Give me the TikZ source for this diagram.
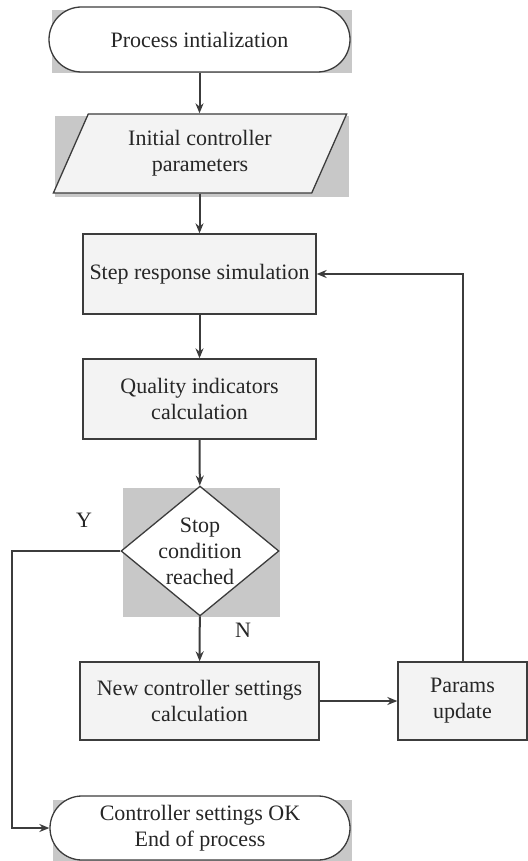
\documentclass[tikz,border=0pt]{standalone}
\usepackage{fontspec}
\setmainfont{Liberation Serif}
\usepackage{tikz}
\usetikzlibrary{arrows.meta, positioning, shapes.geometric, shapes.misc, calc}
\definecolor{linegray}{HTML}{3C3C3C}
\definecolor{shadegray}{HTML}{C8C8C8}
\definecolor{boxfill}{HTML}{F3F3F3}
\tikzset{
    every node/.style={font=\fontsize{22}{26}\selectfont, text=black!85},
    termnode/.style={rounded rectangle, draw=linegray, line width=1.3pt, fill=white, align=center, inner sep=0pt},
    ionode/.style={trapezium, trapezium left angle=64, trapezium right angle=116, trapezium stretches=true, draw=linegray, line width=1.3pt, fill=boxfill, align=center, inner sep=0pt},
    procnode/.style={rectangle, draw=linegray, line width=1.3pt, fill=boxfill, align=center, inner sep=0pt},
    decnode/.style={diamond, draw=linegray, line width=1.3pt, fill=white, align=center, inner sep=-5pt},
    shadowrect/.style={fill=shadegray},
    flowline/.style={draw=linegray, line width=2pt}
}

\begin{document}
\begin{tikzpicture}[x=1pt, y=-1pt, >={Stealth[length=10pt, width=8pt]}]
  \useasboundingbox (0,0) rectangle (527,861);
  \fill[shadowrect] (52,10) rectangle (352,73);
  \fill[shadowrect] (55,116) rectangle (349,197);
  \fill[shadowrect] (123,488) rectangle (280,617);
  \fill[shadowrect] (53,800) rectangle (352,861);
  \node[termnode, minimum width=301pt, minimum height=65pt] (init) at (199.5, 39.5) {Process intialization};
  \node[ionode, minimum width=294pt, minimum height=79pt] (params) at (200, 153.5) {Initial controller\\parameters};
  \node[procnode, minimum width=233pt, minimum height=80pt] (sim) at (199.5, 274) {Step response simulation};
  \node[procnode, minimum width=233pt, minimum height=80pt] (qual) at (199.5, 399) {Quality indicators\\calculation};
  \node[decnode, minimum width=158pt, minimum height=128pt] (stop) at (200, 551) {Stop\\condition\\reached};
  \node[procnode, minimum width=239pt, minimum height=78pt] (newset) at (199.5, 701) {New controller settings\\calculation};
  \node[procnode, minimum width=129pt, minimum height=78pt] (upd) at (462.5, 701) {Params\\update};
  \node[termnode, minimum width=300pt, minimum height=64pt] (done) at (200, 828) {Controller settings OK\\End of process};
  \node (ylab) at (84, 520) {Y};
  \node (nlab) at (243, 630) {N};
  \coordinate (yleft) at (12, 0);
  \draw[flowline, ->] (init.south) -- (init.south |- params.north);
  \draw[flowline, ->] (params.south -| sim.north) -- (sim.north);
  \draw[flowline, ->] (sim) -- (qual);
  \draw[flowline, ->] (qual) -- (stop);
  \draw[flowline, ->] (stop) -- (newset);
  \draw[flowline, ->] (newset) -- (upd);
  \draw[flowline, ->] (upd.north) |- (sim.east);
  \draw[flowline, ->] (stop.west) -| (yleft |- done.west) -- (done.west);
\end{tikzpicture}
\end{document}
